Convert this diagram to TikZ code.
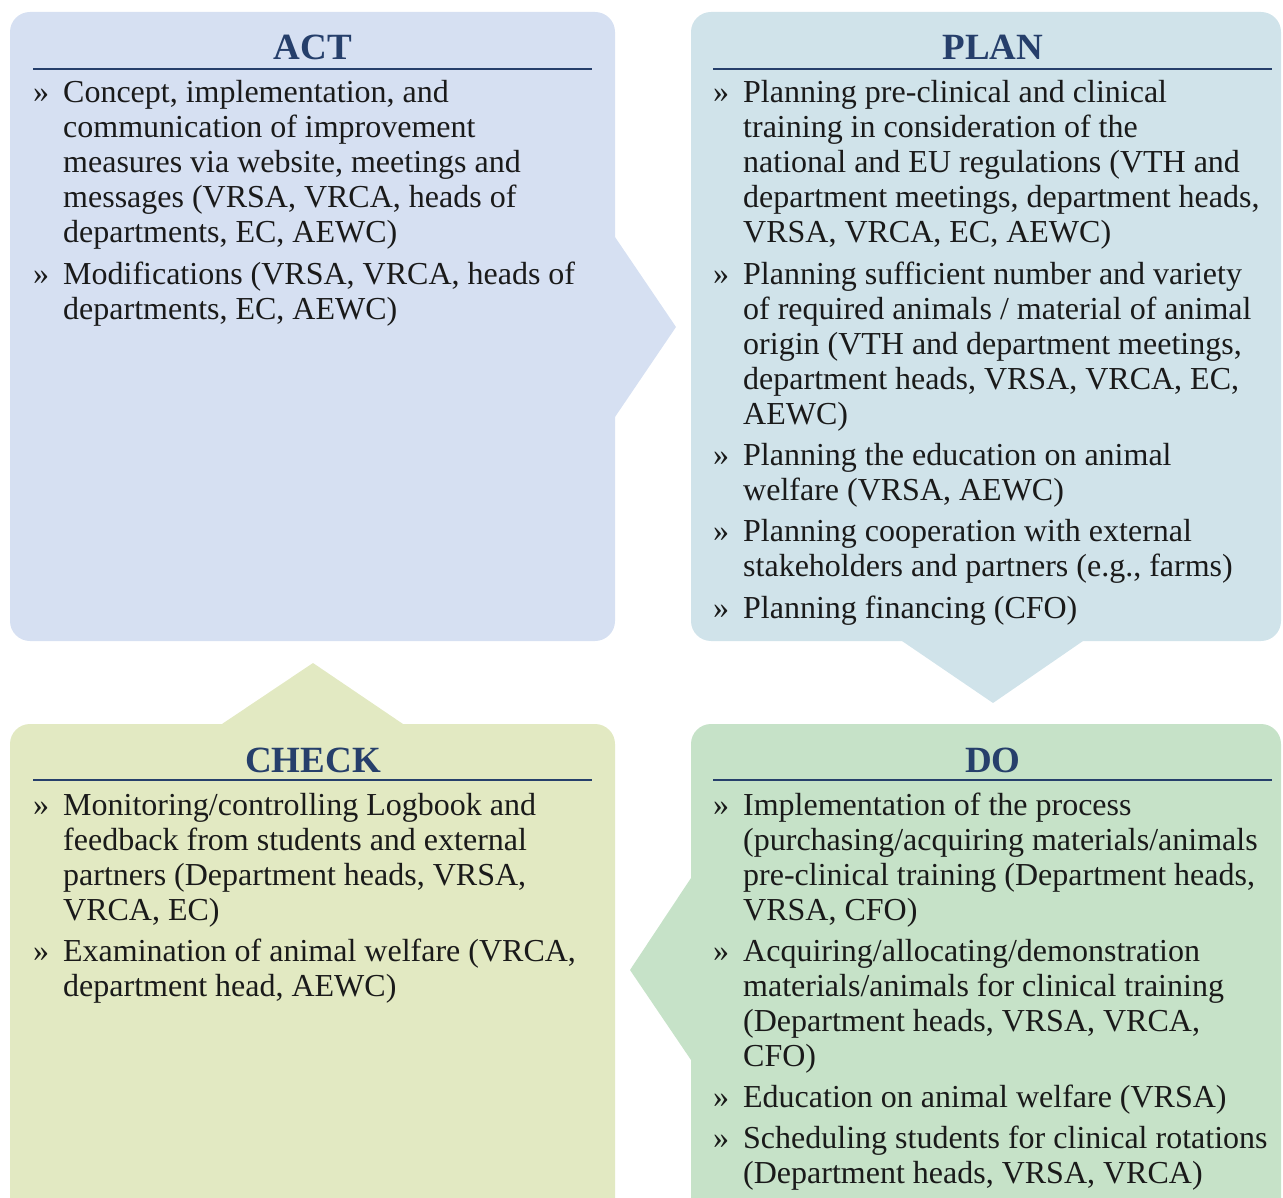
\documentclass[tikz,border=0pt]{standalone}
\usepackage{fontspec}
\setmainfont{Liberation Serif}
\usepackage{xcolor}
\usetikzlibrary{positioning}

\definecolor{actfill}{HTML}{D6E0F2}
\definecolor{planfill}{HTML}{D0E3EA}
\definecolor{dofill}{HTML}{C6E2C8}
\definecolor{checkfill}{HTML}{E2E9C2}
\definecolor{headblue}{HTML}{263F6B}
\definecolor{bodyink}{HTML}{1A1A1A}

\newcommand{\pdcaitems}[1]{\begin{tabular}[t]{@{}p{30pt}@{}l@{}}#1\end{tabular}}

\begin{document}
\begin{tikzpicture}
                [x=1pt, y=-1pt,
                box/.style={rounded corners=20pt},
                heading/.style={text=headblue,inner sep=0pt,anchor=base,
                    font=\fontsize{37}{40}\selectfont\bfseries},
                rule/.style={draw=headblue,line width=2pt},
                items/.style={text=bodyink,inner sep=0pt,anchor=base west,
                    font=\fontsize{32}{35}\selectfont},
                ]
                \clip (0,0) rectangle (1283,1198);

                % the four boxes
                \fill[actfill, box] (10,12) rectangle (615,641);
                \fill[planfill, box] (691,12) rectangle (1281,641);
                \fill[checkfill, box] (10,724) rectangle (615,1230);
                \fill[dofill, box] (691,724) rectangle (1281,1230);

                % arrow tips between them
                \fill[actfill] (615,237) coordinate (A1)
                    -- (676,327) coordinate (A2)
                    -- (615,417) coordinate (A3) -- cycle;
                \fill[planfill] (902,641) coordinate (P1)
                    -- (993,703) coordinate (P2)
                    -- (1083,641) coordinate (P3) -- cycle;
                \fill[dofill] (691,878) coordinate (D1)
                    -- (630,970) coordinate (D2)
                    -- (691,1060) coordinate (D3) -- cycle;
                \fill[checkfill] (222,724) coordinate (C1)
                    -- (313,663) coordinate (C2)
                    -- (403,724) coordinate (C3) -- cycle;

                % headings
                \node[heading] (acthead) at (313,60) {ACT};
                \draw[rule] (33,69) -- (592,69);
                \node[heading] (planhead) at (993,60) {PLAN};
                \draw[rule] (713,69) -- (1272,69);
                \node[heading] (checkhead) at (313,772) {CHECK};
                \draw[rule] (33,780) -- (592,780);
                \node[heading] (dohead) at (993,772) {DO};
                \draw[rule] (713,780) -- (1272,780);

                % lists
                \node[items] (acttext) at (33,103) {\pdcaitems{%
                    » & Concept, implementation, and\\
                      & communication of improvement\\
                      & measures via website, meetings and\\
                      & messages (VRSA, VRCA, heads of\\
                      & departments, EC, AEWC)\\[6.3pt]
                    » & Modifications (VRSA, VRCA, heads of\\
                      & departments, EC, AEWC)}};

                \node[items] (plantext) at (713,103) {\pdcaitems{%
                    » & Planning pre-clinical and clinical\\
                      & training in consideration of the\\
                      & national and EU regulations (VTH and\\
                      & department meetings, department heads,\\
                      & VRSA, VRCA, EC, AEWC)\\[6.3pt]
                    » & Planning sufficient number and variety\\
                      & of required animals / material of animal\\
                      & origin (VTH and department meetings,\\
                      & department heads, VRSA, VRCA, EC,\\
                      & AEWC)\\[6.3pt]
                    » & Planning the education on animal\\
                      & welfare (VRSA, AEWC)\\[6.3pt]
                    » & Planning cooperation with external\\
                      & stakeholders and partners (e.g., farms)\\[6.3pt]
                    » & Planning financing (CFO)}};

                \node[items] (checktext) at (33,815) {\pdcaitems{%
                    » & Monitoring/controlling Logbook and\\
                      & feedback from students and external\\
                      & partners (Department heads, VRSA,\\
                      & VRCA, EC)\\[6.3pt]
                    » & Examination of animal welfare (VRCA,\\
                      & department head, AEWC)}};

                \node[items] (dotext) at (713,815) {\pdcaitems{%
                    » & Implementation of the process\\
                      & (purchasing/acquiring materials/animals\\
                      & pre-clinical training (Department heads,\\
                      & VRSA, CFO)\\[6.3pt]
                    » & Acquiring/allocating/demonstration\\
                      & materials/animals for clinical training\\
                      & (Department heads, VRSA, VRCA,\\
                      & CFO)\\[6.3pt]
                    » & Education on animal welfare (VRSA)\\[6.3pt]
                    » & Scheduling students for clinical rotations\\
                      & (Department heads, VRSA, VRCA)}};
            \end{tikzpicture}
\end{document}
